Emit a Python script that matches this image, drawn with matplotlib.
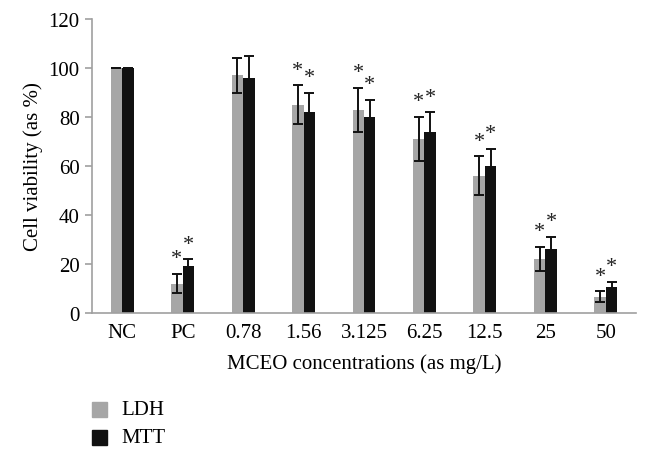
import matplotlib
matplotlib.use("Agg")
import matplotlib.pyplot as plt
import numpy as np
from matplotlib.patches import Rectangle

categories = ["NC", "PC", "0.78", "1.56", "3.125", "6.25", "12.5", "25", "50"]
ldh = [100, 12, 97, 85, 83, 71, 56, 22, 6.7]
ldh_err = [0, 4, 7, 8, 9, 9, 8, 5, 2.1]
mtt = [100, 19, 96, 82, 80, 74, 60, 26, 10.6]
mtt_err = [0, 3, 9, 8, 7, 8, 7, 5, 2.2]
ldh_sig = [False, True, False, True, True, True, True, True, True]
mtt_sig = [False, True, False, True, True, True, True, True, True]
yticks = [0, 20, 40, 60, 80, 100, 120]

plt.rcParams['font.family'] = ['Liberation Serif', 'DejaVu Serif']
FS = 15

fig = plt.figure(figsize=(6.5, 4.6), dpi=100)
ax = fig.add_axes([92/650, 1-314/460, 544/650, 294/460])

x = np.arange(len(categories))
w = 0.19
gray = "#a6a6a6"
black = "#111111"
ekw = dict(ecolor="#111111", elinewidth=1.4, capthick=1.4)
ax.bar(x - w/2, ldh, w, color=gray, yerr=ldh_err, capsize=3.8, error_kw=ekw, zorder=2)
ax.bar(x + w/2, mtt, w, color=black, yerr=mtt_err, capsize=3.8, error_kw=ekw, zorder=2)

for i in range(len(categories)):
    if ldh_sig[i]:
        ax.annotate("*", (x[i] - w/2, ldh[i] + ldh_err[i]), xytext=(0, 4),
                    textcoords="offset points", ha="center", va="bottom",
                    fontsize=16, color="#222222")
    if mtt_sig[i]:
        ax.annotate("*", (x[i] + w/2, mtt[i] + mtt_err[i]), xytext=(0, 4),
                    textcoords="offset points", ha="center", va="bottom",
                    fontsize=16, color="#222222")

ax.set_xlim(-0.5, len(categories) - 0.5)
ax.set_ylim(0, 120)
ax.set_yticks(yticks)
ax.set_xticks(x)
ax.set_xticklabels(categories)
for s in ["top", "right"]:
    ax.spines[s].set_visible(False)
for s in ["left", "bottom"]:
    ax.spines[s].set_color("#a0a0a0")
    ax.spines[s].set_linewidth(1.2)
ax.tick_params(axis="y", length=5, color="#a0a0a0", width=1.2, labelsize=FS, pad=4)
ax.tick_params(axis="x", length=0, labelsize=FS, pad=7)
ax.set_ylabel("Cell viability (as %)", fontsize=FS, labelpad=4)
ax.set_xlabel("MCEO concentrations (as mg/L)", fontsize=FS, labelpad=8)

# legend
for yy, col, lab in [(403, gray, "LDH"), (431, black, "MTT")]:
    fig.patches.append(Rectangle((92/650, 1-(yy+15)/460), 15/650, 15/460,
                                 transform=fig.transFigure, color=col))
    fig.text(121/650, 1-(yy+8)/460, lab, fontsize=FS, va="center", ha="left")

fig.savefig("out.png", dpi=100)
